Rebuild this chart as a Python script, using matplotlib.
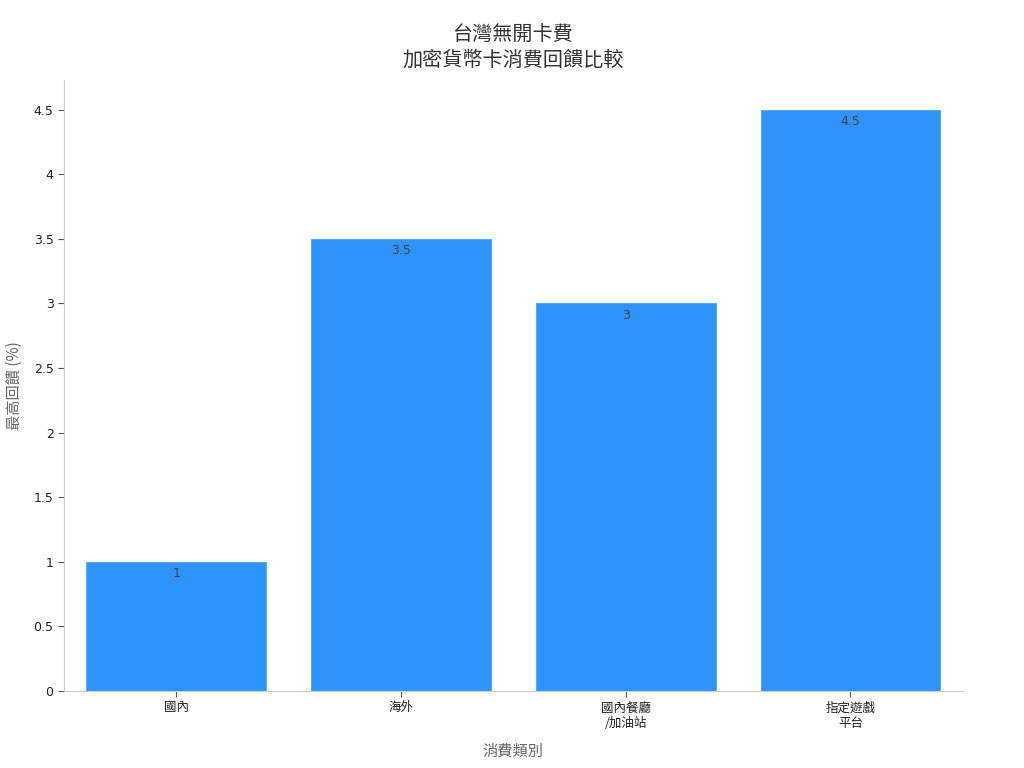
import matplotlib.pyplot as plt

plt.rcParams['font.family'] = ['Noto Sans CJK TC', 'DejaVu Sans']

categories = ['國內', '海外', '國內餐廳\n/加油站', '指定遊戲\n平台']
values = [1, 3.5, 3, 4.5]
yticks = [0, 0.5, 1, 1.5, 2, 2.5, 3, 3.5, 4, 4.5]
ytick_labels = ['0', '0.5', '1', '1.5', '2', '2.5', '3', '3.5', '4', '4.5']

fig = plt.figure(figsize=(10.24, 7.68), dpi=100)
ax = fig.add_axes([0.0625, 0.1003, 0.8777, 0.7956])

x = range(len(categories))
bars = ax.bar(x, values, width=0.8, color='#2E93FA', edgecolor='#5aa9f8', linewidth=0.8)

for b, v in zip(bars, values):
    ax.text(b.get_x() + b.get_width() / 2, v - 0.04, f'{v:g}', ha='center', va='top',
            fontsize=9, color='#444444', family=['DejaVu Sans'])

ax.set_xlim(-0.5, 3.5)
ax.set_ylim(0, 4.73)
ax.set_xticks(list(x))
ax.set_xticklabels(categories, fontsize=9, color='#222222', linespacing=1.3)
ax.set_yticks(yticks)
ax.set_yticklabels(ytick_labels, fontsize=9, color='#222222', family=['DejaVu Sans'])

for s in ['top', 'right']:
    ax.spines[s].set_visible(False)
for s in ['left', 'bottom']:
    ax.spines[s].set_color('#cccccc')
ax.tick_params(axis='both', colors='#555555', length=4, width=0.8, labelcolor='#222222')

ax.set_xlabel('消費類別', fontsize=11, color='#666666', labelpad=9)
ax.set_ylabel('最高回饋 (%)', fontsize=11, color='#666666', labelpad=8)
ax.set_title('台灣無開卡費\n加密貨幣卡消費回饋比較', fontsize=14.5, color='#333333', pad=10, linespacing=1.3)

fig.savefig('out.png', dpi=100)
